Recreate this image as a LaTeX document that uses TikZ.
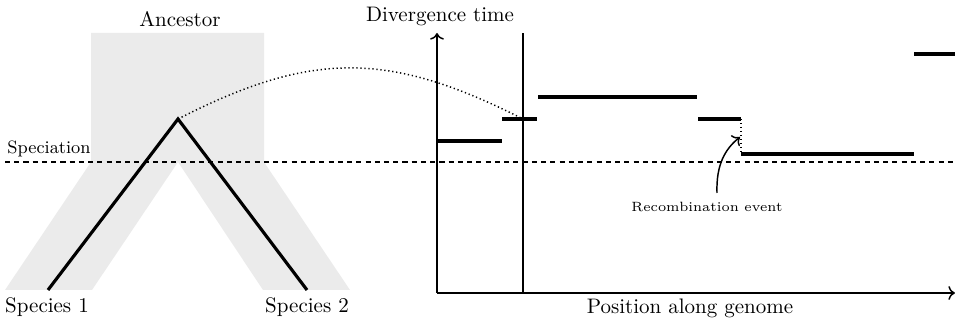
\documentclass[tikz,border=0pt]{standalone}
\usetikzlibrary{arrows.meta}
\definecolor{popgray}{RGB}{235,235,235}
\begin{document}
\begin{tikzpicture}[x=0.476pt,y=-0.476pt,
  branch/.style={line width=1.5pt},
  seg/.style={line width=1.6pt},
  axis/.style={line width=0.7pt},
  dotline/.style={line width=0.7pt,dash pattern=on 0.6pt off 1.3pt},
  dashline/.style={line width=0.5pt,dash pattern=on 2.4pt off 2pt},
  lbl/.style={anchor=base,inner sep=0pt},
  ]
\useasboundingbox (0,0) rectangle (955,323);
% grey population tree
\fill[popgray] (91,33) -- (264,33) -- (264,162) -- (350,290) -- (263,290) -- (178,162)
  -- (92,290) -- (5,290) -- (91,162) -- cycle;
% gene tree
\coordinate (apex) at (178,119);
\coordinate (leaf1) at (48,290);
\coordinate (leaf2) at (307,290);
\draw[branch] (leaf1) -- (apex) -- (leaf2);
% speciation line
\coordinate (specL) at (5,162);
\coordinate (specR) at (955,162);
\draw[dashline] (specL) -- (specR);
% labels left
\node[lbl] (anc) at (180,27) {Ancestor};
\node[lbl] (sp1) at (47,313) {Species 1};
\node[lbl] (sp2) at (307,313) {Species 2};
\node[lbl,font=\fontsize{8.5}{10}\selectfont] (spec) at (49,154) {Speciation};
% axes
\coordinate (O) at (437,293);
\coordinate (ytop) at (437,33);
\coordinate (xend) at (955,293);
\draw[axis,->] (O) -- (ytop);
\draw[axis,->] (O) -- (xend);
\coordinate (vb) at (523,293);
\coordinate (vt) at (523,33);
\draw[axis] (vb) -- (vt);
\node[lbl] (dt) at (440,22) {Divergence time};
\node[lbl] (pos) at (690,314) {Position along genome};
% segments
\coordinate (s1a) at (437,141); \coordinate (s1b) at (502,141);
\coordinate (s2a) at (502,119); \coordinate (s2b) at (537,119);
\coordinate (s3a) at (538,97);  \coordinate (s3b) at (697,97);
\coordinate (s4a) at (698,119); \coordinate (s4b) at (741,119);
\coordinate (s5a) at (741,154); \coordinate (s5b) at (914,154);
\coordinate (s6a) at (914,54);  \coordinate (s6b) at (955,54);
\draw[seg] (s1a) -- (s1b);
\draw[seg] (s2a) -- (s2b);
\draw[seg] (s3a) -- (s3b);
\draw[seg] (s4a) -- (s4b);
\draw[seg] (s5a) -- (s5b);
\draw[seg] (s6a) -- (s6b);
% recombination jump
\draw[dotline] (s4b) -- (s5a);
% link from gene tree to genome position
\coordinate (link) at (521,118);
\draw[dotline] (apex) .. controls (311,51) and (388,51) .. (link);
% recombination label
\node[lbl,font=\fontsize{6.4}{8}\selectfont] (rec) at (707,212) {Recombination event};
\coordinate (recstart) at (717,193);
\coordinate (rectip) at (740,137);
\draw[axis,->] (recstart) .. controls (716,165) and (725,149) .. (rectip);
\end{tikzpicture}
\end{document}
